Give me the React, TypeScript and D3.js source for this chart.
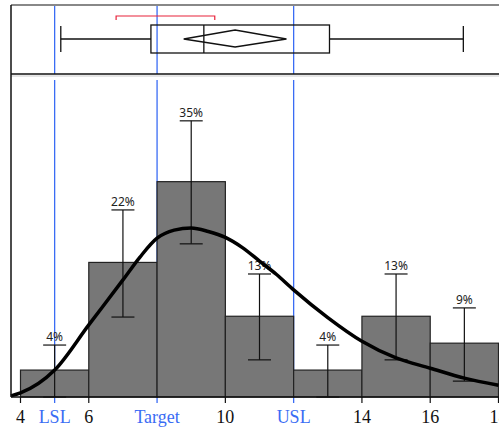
import { useEffect, useRef } from 'react';
import * as d3 from 'd3';

// Histogram bins (lower edges), counts and percentage labels
const binStarts = [4, 6, 8, 10, 12, 14, 16];
const binWidth = 2;
const counts = [1, 5, 8, 3, 1, 3, 2];
const pctLabels = ['4%', '22%', '35%', '13%', '4%', '13%', '9%'];
// Error bars (in counts)
const errLow = [0, 2.97, 5.69, 1.38, 0, 1.38, 0.59];
const errHigh = [1.93, 6.95, 10.26, 4.57, 1.93, 4.57, 3.31];

// Fitted density curve (x, count)
const curveX = [3.72, 4, 5, 6, 7, 7.5, 8, 8.5, 9, 9.5, 10, 10.5, 11, 11.5, 12, 13, 14, 15, 16, 17, 18];
const curveY = [0.04, 0.15, 1.0, 2.68, 4.35, 5.2, 5.9, 6.2, 6.28, 6.15, 5.93, 5.55, 5.05, 4.55, 3.98, 2.95, 2.07, 1.45, 1.07, 0.7, 0.44];

// Spec limits
const specNames = ['LSL', 'Target', 'USL'];
const specValues = [5, 8, 12];

// Box plot summary
const whiskerLow = 5.18;
const q1 = 7.82;
const median = 9.37;
const q3 = 13.05;
const whiskerHigh = 16.97;
const meanLow = 8.78;
const meanHigh = 11.79;
const shortestHalf = [6.8, 9.69];

const axisTicks = [4, 6, 10, 14, 16, 18];

export default function App() {
    const ref = useRef<SVGSVGElement>(null);

    useEffect(() => {
        if (!ref.current) return;
        const svg = d3.select(ref.current);
        svg.selectAll('*').remove();

        const W = 499;
        const left = 11, top = 5, split = 74, base = 397;
        const blue = '#3a6cf4';

        const x = d3.scaleLinear().domain([4, 18]).range([20.5, 498.5]);
        const y = d3.scaleLinear().domain([0, 12]).range([base, split]);

        // Spec lines (under everything)
        const spec = svg.append('g').attr('stroke', blue).attr('stroke-width', 1.3);
        specValues.forEach(v => {
            spec.append('line').attr('x1', x(v)).attr('x2', x(v)).attr('y1', top).attr('y2', split);
            spec.append('line').attr('x1', x(v)).attr('x2', x(v)).attr('y1', split + 6).attr('y2', base + 6);
        });

        // Histogram bars
        svg.append('g')
            .selectAll('rect')
            .data(counts)
            .join('rect')
            .attr('x', (_, i) => x(binStarts[i]))
            .attr('y', d => y(d))
            .attr('width', (_, i) => x(binStarts[i] + binWidth) - x(binStarts[i]))
            .attr('height', d => base - y(d))
            .attr('fill', '#777777')
            .attr('stroke', '#222')
            .attr('stroke-width', 1.2);

        // Error bars
        const eb = svg.append('g').attr('stroke', '#111').attr('stroke-width', 1.2);
        counts.forEach((_, i) => {
            const cx = x(binStarts[i] + binWidth / 2);
            eb.append('line').attr('x1', cx).attr('x2', cx).attr('y1', y(errLow[i])).attr('y2', y(errHigh[i]));
            eb.append('line').attr('x1', cx - 11.5).attr('x2', cx + 11.5).attr('y1', y(errLow[i])).attr('y2', y(errLow[i]));
            eb.append('line').attr('x1', cx - 11.5).attr('x2', cx + 11.5).attr('y1', y(errHigh[i])).attr('y2', y(errHigh[i]));
        });

        // Percentage labels
        svg.append('g')
            .attr('text-anchor', 'middle')
            .style('font', '12px "Noto Sans", sans-serif')
            .attr('fill', '#222')
            .selectAll('text')
            .data(pctLabels)
            .join('text')
            .attr('x', (_, i) => x(binStarts[i] + binWidth / 2))
            .attr('y', (_, i) => y(errHigh[i]) - 4)
            .text(d => d);

        // Density curve
        const line = d3.line<number>()
            .x(d => x(d))
            .y((_, i) => y(curveY[i]))
            .curve(d3.curveMonotoneX);
        svg.append('path')
            .datum(curveX)
            .attr('d', line)
            .attr('fill', 'none')
            .attr('stroke', '#000')
            .attr('stroke-width', 3.5);

        // Frames
        svg.append('line').attr('x1', left).attr('x2', W).attr('y1', top).attr('y2', top)
            .attr('stroke', '#888').attr('stroke-width', 2);
        svg.append('line').attr('x1', left).attr('x2', W).attr('y1', split).attr('y2', split)
            .attr('stroke', '#111').attr('stroke-width', 1.5);
        svg.append('line').attr('x1', left).attr('x2', W).attr('y1', split + 2).attr('y2', split + 2)
            .attr('stroke', '#ccc').attr('stroke-width', 1);
        svg.append('line').attr('x1', left).attr('x2', left).attr('y1', top).attr('y2', base)
            .attr('stroke', '#111').attr('stroke-width', 1.5);
        svg.append('line').attr('x1', left).attr('x2', W).attr('y1', base).attr('y2', base)
            .attr('stroke', '#111').attr('stroke-width', 1.5);

        // X axis ticks and labels
        const ax = svg.append('g');
        axisTicks.forEach(v => {
            ax.append('line').attr('x1', x(v)).attr('x2', x(v)).attr('y1', base).attr('y2', base + 6)
                .attr('stroke', '#111').attr('stroke-width', 1.2);
            ax.append('text').attr('x', x(v)).attr('y', base + 26).attr('text-anchor', 'middle')
                .style('font', '18px "Liberation Serif", serif').attr('fill', '#111').text(v);
        });
        specValues.forEach((v, i) => {
            ax.append('text').attr('x', x(v)).attr('y', base + 26).attr('text-anchor', 'middle')
                .style('font', '18px "Liberation Serif", serif').attr('fill', blue).text(specNames[i]);
        });

        // Box plot
        const cy = 39;
        const bp = svg.append('g').attr('stroke', '#111').attr('stroke-width', 1.3).attr('fill', 'none');
        bp.append('line').attr('x1', x(whiskerLow)).attr('x2', x(q1)).attr('y1', cy).attr('y2', cy);
        bp.append('line').attr('x1', x(q3)).attr('x2', x(whiskerHigh)).attr('y1', cy).attr('y2', cy);
        bp.append('line').attr('x1', x(whiskerLow)).attr('x2', x(whiskerLow)).attr('y1', 26).attr('y2', 52);
        bp.append('line').attr('x1', x(whiskerHigh)).attr('x2', x(whiskerHigh)).attr('y1', 26).attr('y2', 52);
        bp.append('rect').attr('x', x(q1)).attr('y', 25).attr('width', x(q3) - x(q1)).attr('height', 28);
        bp.append('line').attr('x1', x(median)).attr('x2', x(median)).attr('y1', 25).attr('y2', 53);
        const mc = (meanLow + meanHigh) / 2;
        bp.append('path').attr('d',
            `M${x(meanLow)},${cy} L${x(mc)},30 L${x(meanHigh)},${cy} L${x(mc)},47 Z`);
        svg.append('path')
            .attr('d', `M${x(shortestHalf[0])},20 V16 H${x(shortestHalf[1])} V20`)
            .attr('fill', 'none').attr('stroke', '#e8223a').attr('stroke-width', 1.2);
    }, []);

    return (
        <svg ref={ref} width={499} height={427}
            style={{ position: 'absolute', left: 0, top: 0, background: '#fff' }} />
    );
}
